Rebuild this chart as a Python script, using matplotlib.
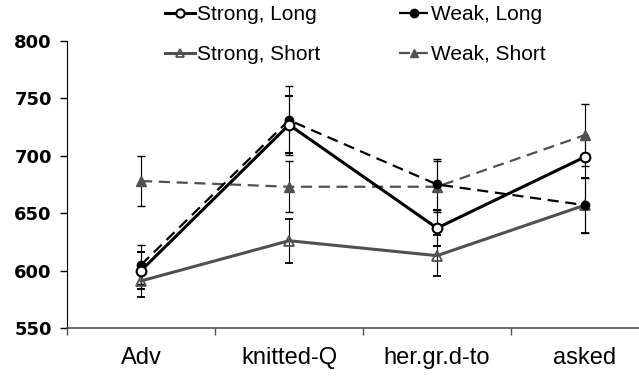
import numpy as np
import matplotlib
matplotlib.use('Agg')
import matplotlib.pyplot as plt
from matplotlib.lines import Line2D

plt.rcParams['font.family'] = ['Liberation Sans', 'DejaVu Sans']

# data
categories = ['Adv', 'knitted-Q', 'her.gr.d-to', 'asked']
strong_long = [600, 727, 637, 699]
weak_long = [605, 731, 675, 657]
strong_short = [591, 626, 613, 657]
weak_short = [678, 673, 673, 718]

strong_long_err = [16, 25, 16, 18]
weak_long_err = [17, 30, 22, 24]
strong_short_err = [14, 19, 18, 24]
weak_short_err = [22, 22, 22, 27]

x = np.arange(len(categories))

fig = plt.figure(figsize=(6.39, 3.79), dpi=100)
ax = fig.add_axes([0.105, 0.1346, 0.91, 0.7574])

gray = '#505050'
dash = (0, (5, 3))
ax.errorbar(x, strong_short, yerr=strong_short_err, color=gray, lw=2.2, marker='^',
            mfc='none', mec=gray, ms=7, mew=1.3, ecolor='black', elinewidth=0.8,
            capsize=3)
ax.errorbar(x, weak_short, yerr=weak_short_err, color=gray, lw=1.6, ls=dash,
            marker='^', mfc=gray, mec=gray, ms=7, ecolor='black', elinewidth=0.8,
            capsize=3)
ax.errorbar(x, weak_long, yerr=weak_long_err, color='black', lw=1.6, ls=dash,
            marker='o', mfc='black', mec='black', ms=6, ecolor='black', elinewidth=0.8,
            capsize=3)
ax.errorbar(x, strong_long, yerr=strong_long_err, color='black', lw=2.2, marker='o',
            mfc='white', mec='black', ms=7, mew=1.5, ecolor='black', elinewidth=0.8,
            capsize=3)

ax.set_ylim(550, 800)
ax.set_yticks([550, 600, 650, 700, 750, 800])
ax.set_xlim(-0.5, 3.43)
ax.set_xticks(x)
ax.set_xticklabels(categories, fontsize=17)
ax.set_xticks(np.arange(-0.5, 3.5, 1.0), minor=True)
ax.tick_params(axis='x', which='major', length=0, pad=14)
ax.tick_params(axis='x', which='minor', length=5, width=1, color=gray, direction='out')
ax.tick_params(axis='y', length=5, width=1, pad=6)
for lab in ax.get_yticklabels():
    lab.set_fontfamily('DejaVu Sans')
    lab.set_fontweight('bold')
    lab.set_fontsize(13)

ax.spines['top'].set_visible(False)
ax.spines['right'].set_visible(False)
ax.spines['bottom'].set_color(gray)
ax.spines['bottom'].set_linewidth(1.2)

# legend: column-major order so rows read Long / Short
handles = [
    Line2D([], [], color='black', lw=2.2, marker='o', mfc='white', mec='black', ms=6, mew=1.5),
    Line2D([], [], color=gray, lw=2.2, marker='^', mfc='none', mec=gray, ms=6, mew=1.3),
    Line2D([], [], color='black', lw=1.6, ls=dash, marker='o', mfc='black', ms=6),
    Line2D([], [], color=gray, lw=1.6, ls=dash, marker='^', mfc=gray, mec=gray, ms=6),
]
labels = ['Strong, Long', 'Strong, Short', 'Weak, Long', 'Weak, Short']
fig.legend(handles, labels, loc='upper left', bbox_to_anchor=(0.255, 0.992), ncol=2,
           frameon=False, fontsize=15, handlelength=1.45, handletextpad=0.1,
           columnspacing=3.75, labelspacing=1.0, borderpad=0.1, borderaxespad=0)

fig.savefig('out.png', dpi=100)
